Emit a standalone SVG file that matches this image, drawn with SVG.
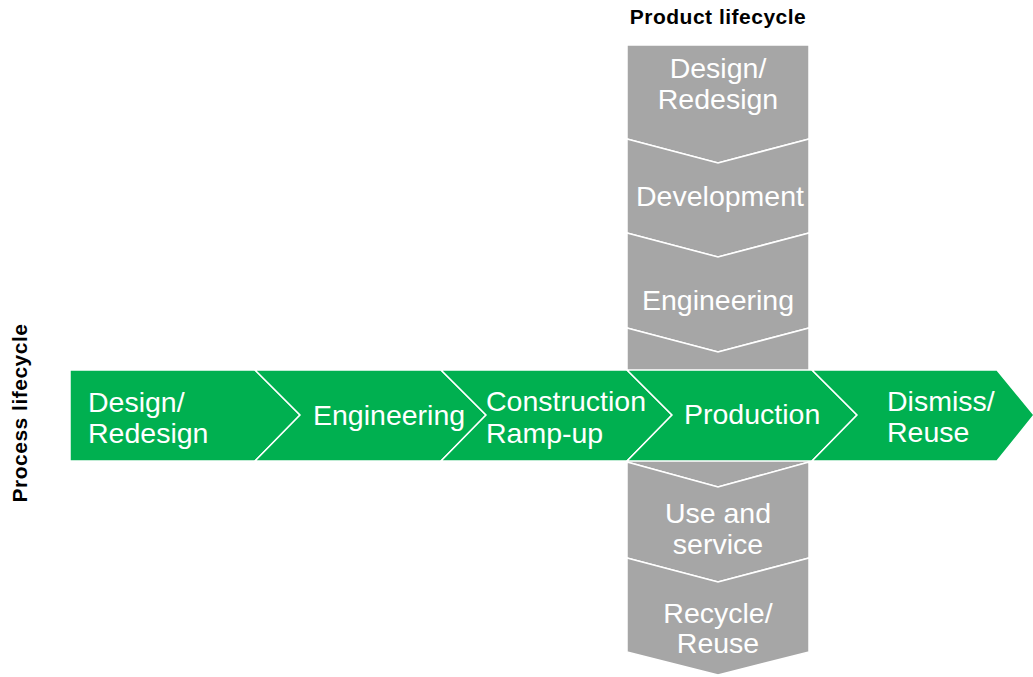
<svg xmlns="http://www.w3.org/2000/svg" width="1033" height="677" viewBox="0 0 1033 677">
<style>
.g{fill:#a6a6a6;stroke:#ffffff;stroke-width:1.5;stroke-linejoin:miter}
.p{fill:#00b050;stroke:#ffffff;stroke-width:1.5;stroke-linejoin:miter}
.t{font-family:"Liberation Sans",Arial,sans-serif;font-size:28.5px;fill:#ffffff}
.c{text-anchor:middle}
.h{font-family:"Liberation Sans",Arial,sans-serif;font-size:21px;font-weight:bold;fill:#000000;letter-spacing:0.5px}
</style>
<rect width="1033" height="677" fill="#ffffff"/>
<text class="h" x="718" y="24" text-anchor="middle">Product lifecycle</text>
<text class="h" transform="translate(27,413) rotate(-90)" text-anchor="middle">Process lifecycle</text>
<g id="product">
<g id="p-design"><polygon class="g" points="627,45 809,45 809,139 718,163 627,139"/><text class="t c" x="718" y="78">Design/</text><text class="t c" x="718" y="109">Redesign</text></g>
<g id="p-development"><polygon class="g" points="627,139 718,163 809,139 809,233 718,257 627,233"/><text class="t c" x="720" y="206">Development</text></g>
<g id="p-engineering"><polygon class="g" points="627,233 718,257 809,233 809,328 718,352 627,328"/><text class="t c" x="718" y="310">Engineering</text></g>
<g id="p-production"><polygon class="g" points="627,328 718,352 809,328 809,462 718,487 627,462"/></g>
<g id="p-use"><polygon class="g" points="627,462 718,487 809,462 809,558 718,582 627,558"/><text class="t c" x="718" y="523">Use and</text><text class="t c" x="718" y="554">service</text></g>
<g id="p-recycle"><polygon class="g" points="627,558 718,582 809,558 809,652 718,675 627,652"/><text class="t c" x="718" y="623">Recycle/</text><text class="t c" x="718" y="653">Reuse</text></g>
</g>
<g id="process">
<g id="s-design"><polygon class="p" points="70,370 255,370 300,415 255,461 70,461"/><text class="t" x="88" y="412">Design/</text><text class="t" x="88" y="443">Redesign</text></g>
<g id="s-engineering"><polygon class="p" points="255,370 441,370 486,415 441,461 255,461 300,415"/><text class="t" x="313" y="425">Engineering</text></g>
<g id="s-construction"><polygon class="p" points="441,370 627,370 672,415 627,461 441,461 486,415"/><text class="t" x="486" y="411">Construction</text><text class="t" x="486" y="443">Ramp-up</text></g>
<g id="s-production"><polygon class="p" points="627,370 812,370 857,415 812,461 627,461 672,415"/><text class="t" x="684" y="424">Production</text></g>
<g id="s-dismiss"><polygon class="p" points="812,370 997,370 1034,415 997,461 812,461 857,415"/><text class="t" x="887" y="411">Dismiss/</text><text class="t" x="887" y="442">Reuse</text></g>
</g>
<g id="connectors"></g>
</svg>
